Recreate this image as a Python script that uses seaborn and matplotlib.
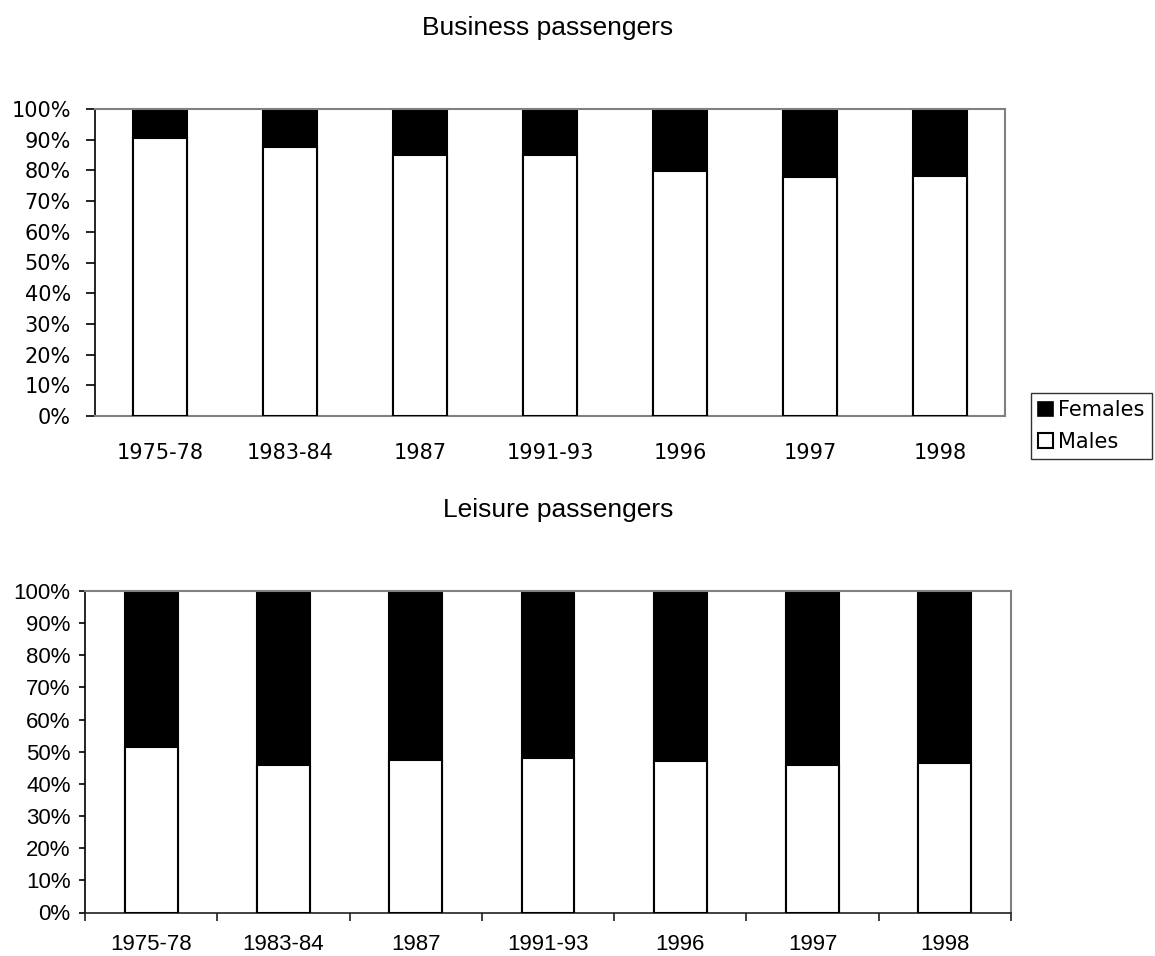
import matplotlib
matplotlib.use("Agg")
import matplotlib.pyplot as plt
import matplotlib.ticker as mticker
from matplotlib.patches import Patch
import numpy as np
import pandas as pd
import seaborn as sns

periods = ["1975-78", "1983-84", "1987", "1991-93", "1996", "1997", "1998"]
business_males = [90.6, 87.5, 85.0, 85.0, 79.7, 78.0, 78.3]
business_females = [9.4, 12.5, 15.0, 15.0, 20.3, 22.0, 21.7]
leisure_males = [51.5, 46.0, 47.4, 48.1, 47.2, 45.9, 46.5]
leisure_females = [48.5, 54.0, 52.6, 51.9, 52.8, 54.1, 53.5]
y_ticks = [0, 10, 20, 30, 40, 50, 60, 70, 80, 90, 100]

sns.set_style("white")
plt.rcParams["font.family"] = ["DejaVu Sans"]
plt.rcParams["text.color"] = "black"
plt.rcParams["xtick.color"] = "black"
plt.rcParams["ytick.color"] = "black"
plt.rcParams["xtick.labelcolor"] = "black"
plt.rcParams["ytick.labelcolor"] = "black"

arial = ["Liberation Sans", "DejaVu Sans"]

fig = plt.figure(figsize=(11.55, 9.56), dpi=100)
ax1 = fig.add_axes([95 / 1155, 1 - 416 / 956, 910 / 1155, 307 / 956])
ax2 = fig.add_axes([85 / 1155, 1 - 912.5 / 956, 926 / 1155, 321.5 / 956])


def draw(ax, males, females, width):
    df = pd.DataFrame({
        "period": periods,
        "males": males,
        "total": np.array(males) + np.array(females),
    })
    sns.barplot(data=df, x="period", y="total", color="black", width=width,
                edgecolor="black", linewidth=1.5, saturation=1, ax=ax, zorder=2)
    sns.barplot(data=df, x="period", y="males", color="white", width=width,
                edgecolor="black", linewidth=1.5, saturation=1, ax=ax, zorder=3)
    ax.set_xlim(-0.5, len(periods) - 0.5)
    ax.set_ylim(0, 100)
    ax.set_yticks(y_ticks)
    ax.yaxis.set_major_formatter(mticker.FuncFormatter(lambda v, p: f"{v:.0f}%"))
    ax.set_xlabel("")
    ax.set_ylabel("")
    ax.grid(False)


draw(ax1, business_males, business_females, 0.41)
draw(ax2, leisure_males, leisure_females, 0.40)

# top chart styling
for s in ["top", "right", "bottom"]:
    ax1.spines[s].set_color("#808080")
    ax1.spines[s].set_linewidth(1.5)
ax1.spines["left"].set_color("black")
ax1.spines["left"].set_linewidth(1.2)
ax1.tick_params(axis="y", which="major", direction="out", length=6.5, width=1.2,
                color="black", pad=10.8, labelsize=15, left=True)
ax1.tick_params(axis="x", which="major", length=0, pad=19.5, labelsize=15)
for lab in ax1.get_yticklabels() + ax1.get_xticklabels():
    lab.set_family(["DejaVu Sans"])
    lab.set_color("black")

# bottom chart styling
for s in ["top", "right"]:
    ax2.spines[s].set_color("#808080")
    ax2.spines[s].set_linewidth(1.5)
ax2.spines["left"].set_color("black")
ax2.spines["left"].set_linewidth(1.2)
ax2.spines["bottom"].set_color("#202020")
ax2.spines["bottom"].set_linewidth(1.2)
ax2.tick_params(axis="y", which="major", direction="out", length=4.5, width=1.2,
                color="black", pad=5.8, labelsize=16, left=True)
ax2.set_xticks(np.arange(-0.5, len(periods), 1.0), minor=True)
ax2.tick_params(axis="x", which="minor", direction="out", length=6, width=1.2,
                color="#202020", bottom=True)
ax2.tick_params(axis="x", which="major", length=0, pad=15.5, labelsize=16)
for lab in ax2.get_yticklabels() + ax2.get_xticklabels():
    lab.set_family(arial)
    lab.set_color("black")

# titles
fig.text(548 / 1155, 1 - 35 / 956, "Business passengers", ha="center", va="baseline",
         fontsize=19, family=arial, color="black")
fig.text(558 / 1155, 1 - 517 / 956, "Leisure passengers", ha="center", va="baseline",
         fontsize=19, family=arial, color="black")

# legend
handles = [Patch(facecolor="black", edgecolor="black", linewidth=1.2, label="Females"),
           Patch(facecolor="white", edgecolor="black", linewidth=1.5, label="Males")]
leg = fig.legend(handles=handles, loc="upper left",
                 bbox_to_anchor=(1031 / 1155, 1 - 393 / 956),
                 frameon=True, fancybox=False, shadow=False, fontsize=15,
                 handlelength=0.72, handleheight=0.72, handletextpad=0.25,
                 borderpad=0.35, labelspacing=0.55, borderaxespad=0)
leg.get_frame().set_edgecolor("black")
leg.get_frame().set_linewidth(1.0)
for t in leg.get_texts():
    t.set_color("black")

fig.savefig("out.png", dpi=100)
